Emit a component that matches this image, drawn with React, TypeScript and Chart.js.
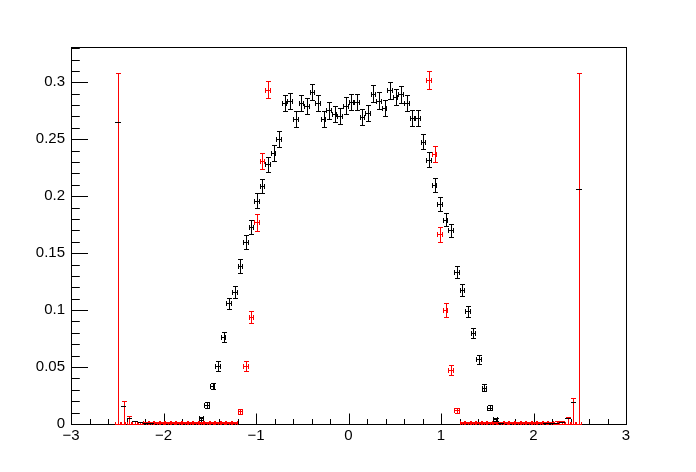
import React, { useEffect, useRef } from 'react';
import { Chart, registerables } from 'chart.js';

Chart.register(...registerables);

// ---- data (bin centres, contents, errors) ----
const BIN_HALF_WIDTH = 0.03;

const blackX = [
  -2.49, -2.43, -2.37, -2.31, -2.25, -2.19, -2.13,
  -1.59, -1.53, -1.47, -1.41, -1.35, -1.29, -1.23, -1.17, -1.11, -1.05, -0.99, -0.93, -0.87, -0.81, -0.75,
  -0.69, -0.63, -0.57, -0.51, -0.45, -0.39, -0.33, -0.27, -0.21, -0.15, -0.09, -0.03,
  0.03, 0.09, 0.15, 0.21, 0.27, 0.33, 0.39, 0.45, 0.51, 0.57, 0.63, 0.69,
  0.75, 0.81, 0.87, 0.93, 0.99, 1.05, 1.11, 1.17, 1.23, 1.29, 1.35, 1.41, 1.47, 1.53, 1.59, 1.65,
  2.13, 2.19, 2.25, 2.31, 2.37, 2.43, 2.49,
];
const blackY = [
  0.265, 0.0158, 0.005, 0.003, 0.0015, 0.0007, 0.0005,
  0.005, 0.0167, 0.0333, 0.0509, 0.0766, 0.106, 0.116, 0.139, 0.160, 0.173, 0.196, 0.209, 0.228, 0.238, 0.250,
  0.282, 0.2836, 0.268, 0.282, 0.279, 0.2915, 0.282, 0.268, 0.2754, 0.2725, 0.2705, 0.2795,
  0.2827, 0.2827, 0.2696, 0.273, 0.290, 0.284, 0.2775, 0.293, 0.287, 0.2895, 0.282, 0.269,
  0.269, 0.248, 0.232, 0.210, 0.193, 0.1795, 0.170, 0.1336, 0.118, 0.099, 0.080, 0.0567, 0.0319, 0.0143, 0.004, 0.0006,
  0.0005, 0.0007, 0.0012, 0.002, 0.005, 0.019, 0.2059,
];
const blackErr = [
  0, 0, 0, 0, 0, 0, 0,
  0.0013, 0.0023, 0.003, 0.004, 0.0045, 0.0048, 0.005, 0.0063, 0.006, 0.0061, 0.0064, 0.0061, 0.0066, 0.0068, 0.007,
  0.0072, 0.0073, 0.0071, 0.0072, 0.0072, 0.0074, 0.0072, 0.0071, 0.0072, 0.0071, 0.0071, 0.0072,
  0.0073, 0.0073, 0.0071, 0.0071, 0.0074, 0.0073, 0.0072, 0.0074, 0.0073, 0.0074, 0.0072, 0.0071,
  0.0071, 0.0069, 0.0067, 0.0064, 0.0062, 0.006, 0.0059, 0.0055, 0.0052, 0.0048, 0.0044, 0.0038, 0.0029, 0.002, 0.0011, 0,
  0, 0, 0, 0, 0, 0, 0,
];

const redX = [
  -2.49, -2.43, -2.37, -2.31, -2.25, -2.19, -2.13, -2.07, -2.01, -1.95, -1.89, -1.83, -1.77, -1.71,
  -1.65, -1.59, -1.53, -1.47, -1.41, -1.35, -1.29, -1.23, -1.17, -1.11, -1.05, -0.99, -0.93, -0.87,
  0.87, 0.93, 0.99, 1.05, 1.11, 1.17, 1.23, 1.29, 1.35, 1.41, 1.47, 1.53, 1.59, 1.65,
  1.71, 1.77, 1.83, 1.89, 1.95, 2.01, 2.07, 2.13, 2.19, 2.25, 2.31, 2.37, 2.43, 2.49,
];
const redY = [
  0, 0, 0, 0, 0, 0.0005, 0.0005, 0.0005, 0.0005, 0.0005, 0.0005, 0.0005, 0.0005, 0.0005,
  0.0005, 0.0005, 0.0005, 0.0005, 0.0005, 0.0005, 0.0005, 0.0005, 0.0111, 0.051, 0.0936, 0.177, 0.231, 0.2936,
  0.302, 0.237, 0.1667, 0.0999, 0.0474, 0.012, 0.0005, 0.0005, 0.0005, 0.0005, 0.0005, 0.0005, 0.0005, 0.0005,
  0.0005, 0.0005, 0.0005, 0.0005, 0.0005, 0.0005, 0.0005, 0.0005, 0.0005, 0, 0, 0, 0, 0,
];
const redErr = [
  0.3085, 0.020, 0.007, 0.003, 0.002, 0.0012, 0.0012, 0.0012, 0.0012, 0.0012, 0.0012, 0.0012, 0.0012, 0.0012,
  0.0012, 0.0012, 0.0012, 0.0012, 0.0012, 0.0012, 0.0012, 0.0012, 0.0019, 0.0042, 0.0053, 0.0072, 0.0072, 0.0078,
  0.0076, 0.007, 0.0067, 0.0063, 0.0044, 0.0022, 0.0012, 0.0012, 0.0012, 0.0012, 0.0012, 0.0012, 0.0012, 0.0012,
  0.0012, 0.0012, 0.0012, 0.0012, 0.0012, 0.0012, 0.0012, 0.0012, 0.0015, 0.0026, 0.003, 0.006, 0.023, 0.3085,
];

const xTickValues = [-3, -2, -1, 0, 1, 2, 3];
const xTickLabels = ['\u22123', '\u22122', '\u22121', '0', '1', '2', '3'];
const yTickValues = [0, 0.05, 0.1, 0.15, 0.2, 0.25, 0.3];
const yTickLabels = ['0', '0.05', '0.1', '0.15', '0.2', '0.25', '0.3'];

const X_MIN = -3;
const X_MAX = 3;
const Y_MIN = 0;
const Y_MAX = 0.331;
const X_MINOR_STEP = 0.2;
const Y_MINOR_STEP = 0.01;

const crisp = (p: number) => Math.round(p) + 0.5;

const rootStylePlugin = {
  id: 'rootStyle',
  beforeDatasetsDraw(chart: any) {
    const { ctx, chartArea: a, scales } = chart;
    const xs = scales.x;
    const ys = scales.y;
    const L = crisp(a.left);
    const R = crisp(a.right);
    const T = crisp(a.top);
    const B = crisp(a.bottom);
    ctx.save();
    ctx.strokeStyle = '#000';
    ctx.lineWidth = 1;
    ctx.strokeRect(L, T, R - L, B - T);
    ctx.beginPath();
    // x axis ticks (inward)
    const nx = Math.round((X_MAX - X_MIN) / X_MINOR_STEP);
    for (let i = 0; i <= nx; i++) {
      const v = X_MIN + i * X_MINOR_STEP;
      const major = Math.abs(v - Math.round(v)) < 1e-6;
      const px = crisp(xs.getPixelForValue(v));
      ctx.moveTo(px, B);
      ctx.lineTo(px, B - (major ? 11 : 5.5));
    }
    // y axis ticks (inward)
    const ny = Math.floor((Y_MAX - Y_MIN) / Y_MINOR_STEP + 1e-6);
    for (let i = 0; i <= ny; i++) {
      const v = Y_MIN + i * Y_MINOR_STEP;
      const major = i % 5 === 0;
      const py = crisp(ys.getPixelForValue(v));
      ctx.moveTo(L, py);
      ctx.lineTo(L + (major ? 16.5 : 8.3), py);
    }
    ctx.stroke();
    ctx.restore();
  },
  afterDatasetsDraw(chart: any) {
    const { ctx, chartArea: a, scales } = chart;
    const xs = scales.x;
    const ys = scales.y;
    ctx.save();
    ctx.beginPath();
    ctx.rect(a.left, a.top, a.right - a.left + 1, a.bottom - a.top + 1);
    ctx.clip();
    ctx.lineWidth = 1;
    chart.data.datasets.forEach((ds: any, di: number) => {
      const meta = chart.getDatasetMeta(di);
      ctx.strokeStyle = ds.borderColor;
      ctx.beginPath();
      meta.data.forEach((el: any, j: number) => {
        const raw = ds.data[j];
        const cx = crisp(el.x);
        const cy = crisp(el.y);
        const xl = Math.round(xs.getPixelForValue(raw.x - BIN_HALF_WIDTH));
        const xr = Math.round(xs.getPixelForValue(raw.x + BIN_HALF_WIDTH));
        ctx.moveTo(xl, cy);
        ctx.lineTo(xr, cy);
        if (raw.e > 0) {
          const yt = crisp(ys.getPixelForValue(raw.y + raw.e));
          const yb = crisp(ys.getPixelForValue(raw.y - raw.e));
          ctx.moveTo(cx, yt);
          ctx.lineTo(cx, yb);
          ctx.moveTo(cx - 2.5, yt);
          ctx.lineTo(cx + 2.5, yt);
          ctx.moveTo(cx - 2.5, yb);
          ctx.lineTo(cx + 2.5, yb);
          ctx.moveTo(xl + 0.5, cy - 2.5);
          ctx.lineTo(xl + 0.5, cy + 2.5);
          ctx.moveTo(xr - 0.5, cy - 2.5);
          ctx.lineTo(xr - 0.5, cy + 2.5);
        }
      });
      ctx.stroke();
    });
    ctx.restore();
  },
};

export default function App() {
  const ref = useRef<HTMLCanvasElement | null>(null);
  useEffect(() => {
    if (!ref.current) return;
    const font = { family: "'Liberation Sans', Arial, sans-serif", size: 15 };
    const chart = new Chart(ref.current, {
      type: 'scatter',
      data: {
        datasets: [
          {
            label: 'red',
            data: redX.map((x, i) => ({ x, y: redY[i], e: redErr[i] })),
            borderColor: '#ff0000',
            backgroundColor: '#ff0000',
            pointRadius: 0,
            pointHoverRadius: 0,
            showLine: false,
          },
          {
            label: 'black',
            data: blackX.map((x, i) => ({ x, y: blackY[i], e: blackErr[i] })),
            borderColor: '#000000',
            backgroundColor: '#000000',
            pointRadius: 0,
            pointHoverRadius: 0,
            showLine: false,
          },
        ],
      },
      options: {
        animation: false,
        responsive: false,
        events: [],
        layout: { padding: { top: 47, right: 70, left: 0, bottom: 0 } },
        plugins: { legend: { display: false }, tooltip: { enabled: false }, title: { display: false } },
        scales: {
          x: {
            type: 'linear',
            min: X_MIN,
            max: X_MAX,
            afterBuildTicks: (s: any) => {
              s.ticks = xTickValues.map((v) => ({ value: v }));
            },
            afterFit: (s: any) => {
              s.height = 48;
            },
            grid: { display: false, drawTicks: false },
            border: { display: false },
            ticks: {
              padding: 3,
              font,
              color: '#000',
              maxRotation: 0,
              autoSkip: false,
              callback: (_v: any, i: number) => xTickLabels[i],
            },
          },
          y: {
            type: 'linear',
            min: Y_MIN,
            max: Y_MAX,
            afterBuildTicks: (s: any) => {
              s.ticks = yTickValues.map((v) => ({ value: v }));
            },
            afterFit: (s: any) => {
              s.width = 71;
            },
            grid: { display: false, drawTicks: false },
            border: { display: false },
            ticks: {
              padding: 6,
              font,
              color: '#000',
              autoSkip: false,
              callback: (_v: any, i: number) => yTickLabels[i],
            },
          },
        },
      } as any,
      plugins: [rootStylePlugin],
    });
    return () => chart.destroy();
  }, []);
  return (
    <div style={{ position: 'absolute', left: 0, top: 0, width: 696, height: 472, background: '#fff' }}>
      <canvas ref={ref} width={696} height={472} />
    </div>
  );
}
